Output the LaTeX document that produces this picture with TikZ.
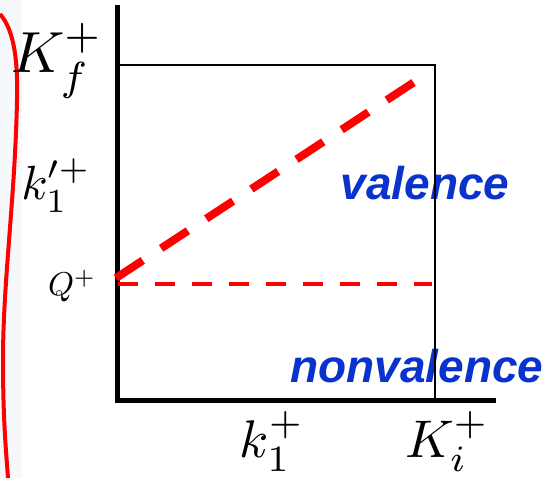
\documentclass[tikz,border=0pt]{standalone}
\usepackage{fontspec}
\usepackage{xcolor}
\usepackage{tikz}
\usetikzlibrary{calc}
\newfontfamily\regionfont{Liberation Sans}
\definecolor{bandcol}{RGB}{245,249,252}
\definecolor{regcol}{RGB}{10,50,205}
\definecolor{cutred}{RGB}{255,0,0}

\tikzset{
  axislab/.style={anchor=base, inner sep=0pt},
  regionlab/.style={regcol, anchor=base, inner sep=0pt,
    font=\regionfont\bfseries\itshape\fontsize{46}{50}\selectfont},
}

\begin{document}
\begin{tikzpicture}[x=1pt, y=-1pt]
    \useasboundingbox (0,0) rectangle (560,478);

    % Side band with red bracket
    \fill[bandcol] (0,0) rectangle (22,478);
    \draw[cutred, line width=4pt]
      (0,14) .. controls (14,30) and (18,60) .. (17,100)
      .. controls (15,200) and (3,280) .. (3,360)
      .. controls (3,420) and (6,450) .. (8,478);

    % Points
    \coordinate (O) at (117.5,400.5);
    \coordinate (ytop) at (117.5,5);
    \coordinate (xend) at (496,400.5);
    \coordinate (Kfpt) at (117.5,65);
    \coordinate (corner) at (435,65);
    \coordinate (Kipt) at (435,400.5);
    \coordinate (Qhi) at (116,278);
    \coordinate (Qlo) at (117.5,284);
    \coordinate (vend) at (431,71);
    \coordinate (hend) at (432,284);

    % Regions
    \node[regionlab] (val) at (425,200) {valence};
    \node[regionlab] (nonval) at (417,383) {nonvalence};

    % Box and axes
    \draw[line width=1.5pt] (Kfpt) -- (corner) -- (Kipt);
    \draw[line width=5pt] (ytop) -- (O) -- (xend);

    % Boundaries
    \draw[cutred, line width=8pt, dash pattern=on 32pt off 22pt] (Qhi) -- (vend);
    \draw[cutred, line width=4.5pt, dash pattern=on 20pt off 17pt] (Qlo) -- (hend);

    % Axis labels
    \node[axislab, scale=5.8] (Kf) at (57,73) {$K_f^+$};
    \node[axislab, scale=4.8] (k1p) at (56,200) {$k_1^{\prime +}$};
    \node[axislab, scale=3.3] (Qlab) at (72,296) {$Q^+$};
    \node[axislab, scale=5.3] (k1) at (272,457) {$k_1^+$};
    \node[axislab, scale=5.3] (Ki) at (447,457) {$K_i^+$};
\end{tikzpicture}
\end{document}
